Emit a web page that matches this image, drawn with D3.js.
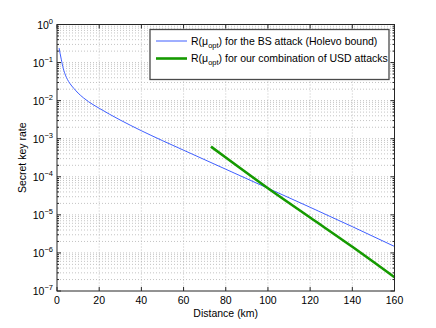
<!DOCTYPE html>
<html>
<head>
<meta charset="utf-8">
<script src="https://cdn.jsdelivr.net/npm/d3@7"></script>
<style>
  body { margin: 0; background: #fff; }
  text { font-family: "Liberation Sans", Arial, sans-serif; fill: #000; }
</style>
</head>
<body>
<div id="main"></div>
<script>
// distance (km) and secret key rate
const bsDistance = [1, 2, 3, 4, 5, 6, 8, 10, 12.5, 15, 20, 25, 30, 40, 50, 60, 80, 100, 120, 140, 160];
const bsRate = [0.240, 0.123, 0.0692, 0.0468, 0.0355, 0.0288, 0.0209, 0.0158, 0.0119, 0.00933, 0.00631,
  0.00437, 0.00309, 0.00162, 8.9e-4, 5.0e-4, 1.58e-4, 5.0e-5, 1.58e-5, 4.9e-6, 1.48e-6];

const usdDistance = [73, 80, 100, 120, 140, 160];
const usdRate = [6.2e-4, 3.2e-4, 5.0e-5, 8.5e-6, 1.45e-6, 2.3e-7];

const xTicks = [0, 20, 40, 60, 80, 100, 120, 140, 160];
const yExponents = [0, -1, -2, -3, -4, -5, -6, -7];

const legendLabels = ["for the BS attack (Holevo bound)", "for our combination of USD attacks"];

const width = 436, height = 328;
const margin = {top: 24.5, right: 41.5, bottom: 37, left: 57};

const svg = d3.select("#main").append("svg")
    .attr("width", width)
    .attr("height", height);

const x = d3.scaleLinear().domain([0, 160]).range([margin.left, width - margin.right]);
const y = d3.scaleLog().domain([1e-7, 1]).range([height - margin.bottom, margin.top]);

const gridColor = "#ababab";

//minor + major horizontal grid lines (log)
let yGrid = [];
yExponents.forEach(e => {
    if (e > -7) {
        for (let m = 1; m <= 9; m++) yGrid.push(m * Math.pow(10, e - 1));
    }
});
yGrid.push(1);

svg.append("g").selectAll("line")
    .data(yGrid.filter(v => v > 1e-7 && v < 1))
    .enter().append("line")
    .attr("x1", x(0)).attr("x2", x(160))
    .attr("y1", d => y(d)).attr("y2", d => y(d))
    .attr("stroke", gridColor)
    .attr("stroke-width", 0.7)
    .attr("stroke-dasharray", "1,2");

//vertical grid
svg.append("g").selectAll("line")
    .data(xTicks.slice(1, -1))
    .enter().append("line")
    .attr("x1", d => x(d)).attr("x2", d => x(d))
    .attr("y1", y(1)).attr("y2", y(1e-7))
    .attr("stroke", gridColor)
    .attr("stroke-width", 0.7)
    .attr("stroke-dasharray", "1,2");

//curves
const line = d3.line()
    .x(d => x(d[0]))
    .y(d => y(d[1]))
    .curve(d3.curveMonotoneX);

svg.append("path")
    .datum(bsDistance.map((d, i) => [d, bsRate[i]]))
    .attr("d", line)
    .attr("fill", "none")
    .attr("stroke", "#3f5fff")
    .attr("stroke-width", 1);

svg.append("path")
    .datum(usdDistance.map((d, i) => [d, usdRate[i]]))
    .attr("d", line)
    .attr("fill", "none")
    .attr("stroke", "#159a00")
    .attr("stroke-width", 2.6);

//axes box
const axisColor = "#262626";
svg.append("rect")
    .attr("x", x(0)).attr("y", y(1))
    .attr("width", x(160) - x(0))
    .attr("height", y(1e-7) - y(1))
    .attr("fill", "none")
    .attr("stroke", axisColor)
    .attr("stroke-width", 1);

//x ticks inward, bottom and top
svg.append("g").selectAll("line")
    .data(xTicks)
    .enter().append("line")
    .attr("x1", d => x(d)).attr("x2", d => x(d))
    .attr("y1", y(1e-7)).attr("y2", y(1e-7) - 4)
    .attr("stroke", axisColor);
svg.append("g").selectAll("line")
    .data(xTicks)
    .enter().append("line")
    .attr("x1", d => x(d)).attr("x2", d => x(d))
    .attr("y1", y(1)).attr("y2", y(1) + 4)
    .attr("stroke", axisColor);

//y ticks inward: major at decades, minor between
const yTickData = yGrid.map(v => ({v: v, major: Math.abs(Math.log10(v) - Math.round(Math.log10(v))) < 1e-9}));
[x(0), x(160)].forEach((xp, side) => {
    svg.append("g").selectAll("line")
        .data(yTickData)
        .enter().append("line")
        .attr("x1", xp)
        .attr("x2", d => xp + (side === 0 ? 1 : -1) * (d.major ? 4 : 2))
        .attr("y1", d => y(d.v)).attr("y2", d => y(d.v))
        .attr("stroke", axisColor);
});

//x tick labels
svg.append("g").selectAll("text")
    .data(xTicks)
    .enter().append("text")
    .attr("x", d => x(d))
    .attr("y", y(1e-7) + 13)
    .attr("text-anchor", "middle")
    .attr("font-size", 10.5)
    .text(d => d);

//y tick labels as 10^n
const yLabels = svg.append("g").selectAll("text")
    .data(yExponents)
    .enter().append("text")
    .attr("x", margin.left - 4)
    .attr("y", d => y(Math.pow(10, d)) + 4)
    .attr("text-anchor", "end")
    .attr("font-size", 10.5);
yLabels.append("tspan").text("10");
yLabels.append("tspan")
    .attr("dy", -5)
    .attr("font-size", 7.5)
    .text(d => d === 0 ? "0" : "\u2212" + (-d));

//axis labels
svg.append("text")
    .attr("x", (x(0) + x(160)) / 2)
    .attr("y", height - 11)
    .attr("text-anchor", "middle")
    .attr("font-size", 10.5)
    .text("Distance (km)");

svg.append("text")
    .attr("text-anchor", "middle")
    .attr("font-size", 10.5)
    .attr("transform", "translate(26," + ((y(1) + y(1e-7)) / 2) + ")rotate(-90)")
    .text("Secret key rate");

//legend
const legend = svg.append("g");
legend.append("rect")
    .attr("x", 150).attr("y", 29.5)
    .attr("width", 239).attr("height", 50)
    .attr("fill", "#fff")
    .attr("stroke", "#4a4a4a")
    .attr("stroke-width", 1.3);

const legendColors = ["#3f5fff", "#159a00"];
const legendWidths = [1, 2.6];
legendLabels.forEach((lab, i) => {
    const ly = 41 + i * 17.5;
    legend.append("line")
        .attr("x1", 156).attr("x2", 187)
        .attr("y1", ly).attr("y2", ly)
        .attr("stroke", legendColors[i])
        .attr("stroke-width", legendWidths[i]);
    const t = legend.append("text")
        .attr("x", 191)
        .attr("y", ly + 3.5)
        .attr("font-size", 10.5);
    t.append("tspan").text("R(\u03bc");
    t.append("tspan").attr("dy", 3).attr("font-size", 7.5).text("opt");
    t.append("tspan").attr("dy", -3).text(") " + lab);
});
</script>
</body>
</html>
